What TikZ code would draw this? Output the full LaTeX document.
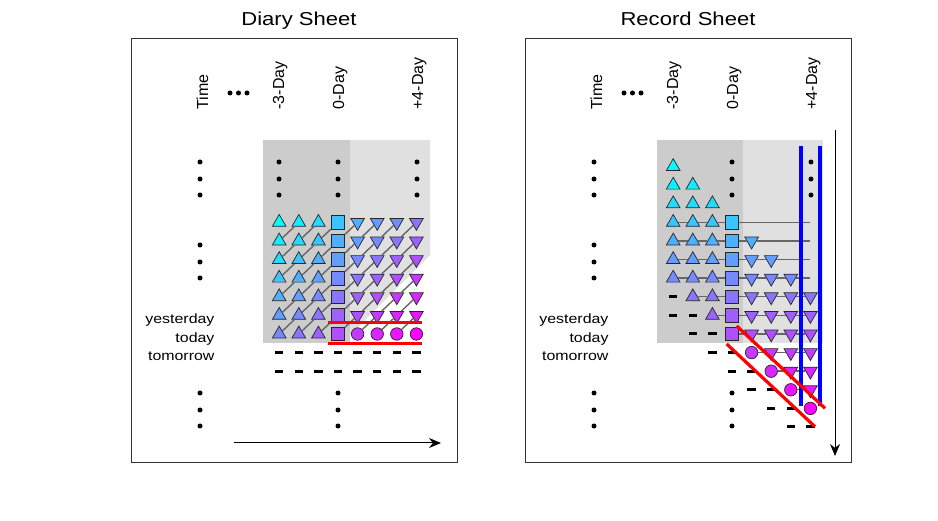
\documentclass[tikz,border=0pt]{standalone}
\usepackage{fontspec}
\setmainfont{Liberation Sans}
\newfontfamily\wide[FakeStretch=1.18]{Liberation Sans}
\usetikzlibrary{shapes.geometric,arrows.meta}
\definecolor{early}{RGB}{0,255,255}
\definecolor{late}{RGB}{255,0,255}
\definecolor{darkshade}{gray}{0.8}
\definecolor{lightshade}{gray}{0.88}

\begin{document}
\begin{tikzpicture}[x=1pt,y=-1pt,>={Stealth[length=12pt,width=10pt]},
  cellbase/.style={draw=black!85,line width=0.7pt,inner sep=0pt},
  pastmark/.style={cellbase,regular polygon,regular polygon sides=3,minimum size=15.8pt},
  foremark/.style={pastmark,shape border rotate=180},
  nowmark/.style={cellbase,rectangle,minimum size=13.5pt},
  nextmark/.style={cellbase,circle,minimum size=12.5pt},
  nilmark/.style={fill=black,inner sep=0pt,minimum width=8.5pt,minimum height=3pt},
  dotmark/.style={circle,fill=black,inner sep=0pt,minimum size=5pt},
  link/.style={draw=black!60,line width=1.4pt},
  sheetframe/.style={draw=black!80,line width=1pt},
  sheettitle/.style={anchor=base,font=\wide\fontsize{18.7}{22}\selectfont},
  daylabel/.style={anchor=base east,font=\wide\fontsize{13.5}{16}\selectfont},
  collabel/.style={rotate=90,anchor=base west,font=\fontsize{16}{18}\selectfont},
  hilite/.style={line width=3.2pt}]
\useasboundingbox (0,0) rectangle (938,521);

\fill[darkshade] (263,140) rectangle (350,343);
\fill[lightshade] (350,140) -- (430,140) -- (430,255) -- (350,335) -- cycle;
\fill[darkshade] (657,140) rectangle (743,343);
\fill[lightshade] (743,140) rectangle (823,343);

\foreach \p/\dx/\tx/\name in {L/0/299/Diary Sheet,R/394/688/Record Sheet} {
  \draw[sheetframe] ({131+\dx},39) rectangle ({457+\dx},463);
  \node[sheettitle] (\p-title) at (\tx,26) {\name};
  \node[collabel] (\p-time) at ({208+\dx},113) {Time};
  \node[collabel] (\p-m3) at ({284+\dx},113) {-3-Day};
  \node[collabel] (\p-0) at ({344+\dx},113) {0-Day};
  \node[collabel] (\p-p4) at ({423+\dx},113) {+4-Day};
  \foreach \x [count=\i] in {0,8.5,17}
    \node[dotmark] (\p-ell\i) at ({230+\dx+\x},93) {};
  \foreach \y [count=\i] in {162,179,195,245,262,278,393,410,426}
    \node[dotmark] (\p-tdot\i) at ({200+\dx},\y) {};
  \foreach \y [count=\i] in {162,179,195,393,410,426}
    \node[dotmark] (\p-zdot\i) at ({338+\dx},\y) {};
  \foreach \y [count=\i] in {162,179,195}
    \node[dotmark] (\p-fdot\i) at ({417+\dx},\y) {};
  \node[daylabel] (\p-yday) at ({218+\dx},324) {yesterday};
  \node[daylabel] (\p-today) at ({218+\dx},342.7) {today};
  \node[daylabel] (\p-tmrw) at ({218+\dx},361) {tomorrow};
}
\foreach \y [count=\i] in {162,179,195}
  \node[dotmark] (L-mdot\i) at (279,\y) {};

\foreach \d in {-6,...,2}
  \foreach \c in {-3,...,4} {
    \pgfmathtruncatemacro{\t}{\d+\c}
    \pgfmathtruncatemacro{\pc}{min(100,round((\t+9)*100/13))}
    \ifnum\d>0 \def\m{nilmark}\else\ifnum\c<0 \def\m{pastmark}\else\ifnum\c=0 \def\m{nowmark}\else\ifnum\d<0 \def\m{foremark}\else\def\m{nextmark}\fi\fi\fi\fi
    \node[fill=late!\pc!early,\m] (L\d_\c) at ({338+19.6*\c},{334+18.6*\d}) {};
    \ifnum\t<6
      \node[fill=late!\pc!early,\m] (R\t_\c) at ({732+19.6*\c},{334+18.6*\t}) {};
    \fi
  }

\foreach \d in {-5,...,0}
  \foreach \c in {-3,...,3} {
    \pgfmathtruncatemacro{\up}{\d-1}
    \pgfmathtruncatemacro{\nx}{\c+1}
    \draw[link] (L\d_\c) -- (L\up_\nx);
  }

\foreach \t in {-6,...,3} {
  \pgfmathtruncatemacro{\lo}{max(-3,\t)}
  \pgfmathtruncatemacro{\hi}{min(3,\t+5)}
  \foreach \c in {\lo,...,\hi} {
    \pgfmathtruncatemacro{\nx}{\c+1}
    \draw[link] (R\t_\c) -- (R\t_\nx);
  }
}
\foreach \t in {-6,...,-3} {
  \pgfmathtruncatemacro{\hi}{\t+6}
  \coordinate (Rend\t) at (810.4,{334+18.6*\t});
  \draw[link] (R\t_\hi) -- (Rend\t);
}

\draw[hilite,red] (328,322.7) -- (422,322.7);
\draw[hilite,red] (328,343.3) -- (422,343.3);
\draw[hilite,blue] (801,146) -- (801,406);
\draw[hilite,blue] (820,146) -- (820,406);
\draw[hilite,red] (736.7,326) -- (825,408.3);
\draw[hilite,red] (726.7,344) -- (815,426.7);

\coordinate (Lfrom) at (234,443);
\coordinate (Lto) at (441,443);
\coordinate (Rfrom) at (835,130);
\coordinate (Rto) at (835,456);
\draw[->,line width=1pt] (Lfrom) -- (Lto);
\draw[->,line width=1pt] (Rfrom) -- (Rto);

\end{tikzpicture}
\end{document}
